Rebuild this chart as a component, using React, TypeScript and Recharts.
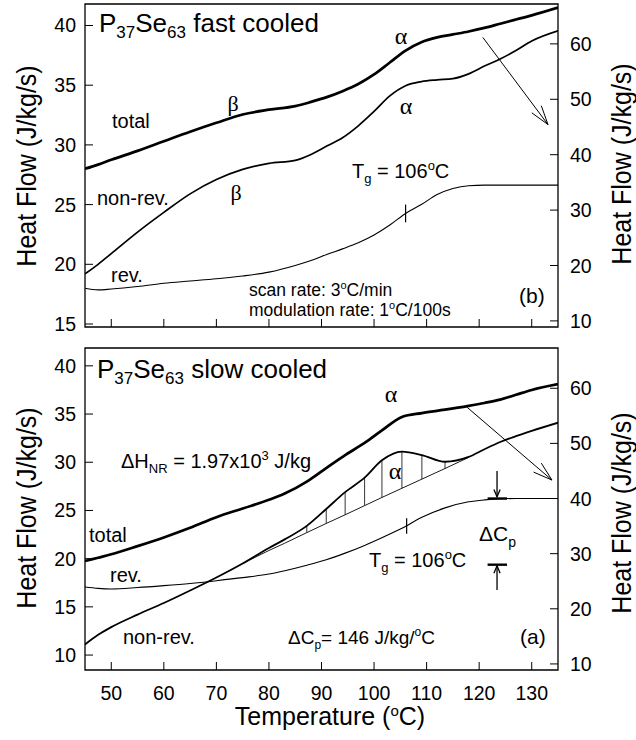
import React from 'react'
import { LineChart, Line, XAxis, YAxis, ReferenceLine, ReferenceArea } from 'recharts'

const FONT = '"Liberation Sans", Arial, Helvetica, sans-serif'
const SERIF = '"Liberation Serif", "Times New Roman", serif'

const xTicks = [50, 60, 70, 80, 90, 100, 110, 120, 130]

// panel (b): fast cooled
const topTemps = [45, 47.5, 50, 55, 60, 65, 70, 75, 80, 85, 88, 91, 94, 97, 100, 103, 106, 109, 112, 115, 118, 121, 124, 127, 130, 135]
const topTotal = [28.0, 28.35, 28.75, 29.5, 30.3, 31.1, 31.85, 32.55, 32.95, 33.25, 33.6, 34.0, 34.5, 35.1, 35.9, 36.9, 37.9, 38.6, 39.0, 39.25, 39.5, 39.8, 40.15, 40.5, 40.85, 41.5]
const topNonRev = [19.2, 20.0, 20.9, 22.7, 24.35, 25.9, 27.1, 27.95, 28.45, 28.7, 29.2, 29.9, 30.6, 31.6, 32.8, 34.1, 34.95, 35.3, 35.45, 35.55, 35.95, 36.6, 37.2, 37.9, 38.7, 39.55]
const topRev = [15.9, 15.6, 15.75, 16.2, 16.8, 17.2, 17.6, 18.1, 18.8, 20.0, 20.9, 22.0, 23.0, 24.1, 25.5, 27.3, 29.4, 31.0, 32.8, 33.9, 34.4, 34.5, 34.5, 34.5, 34.5, 34.5]
const topLeftTicks = [15, 20, 25, 30, 35, 40]
const topRightTicks = [10, 20, 30, 40, 50, 60]

// panel (a): slow cooled
const botTemps = [45, 47.5, 50, 55, 60, 65, 70, 75, 80, 83, 87.2, 90.9, 94.5, 98.2, 101.5, 105.3, 109.1, 113.5, 118, 121, 124, 127, 130, 135]
const botTotal = [19.75, 20.1, 20.45, 21.3, 22.2, 23.2, 24.3, 25.2, 26.1, 26.75, 28.0, 29.4, 30.75, 32.0, 33.3, 34.7, 35.1, 35.45, 35.85, 36.15, 36.5, 37.0, 37.5, 38.1]
const botNonRev = [11.1, 12.1, 12.9, 14.2, 15.4, 16.7, 18.05, 19.5, 21.1, 22.0, 23.4, 25.15, 26.9, 28.4, 30.2, 31.1, 30.75, 30.05, 30.55, 31.35, 32.1, 32.7, 33.25, 34.1]
const botRev = [23.95, 23.7, 23.6, 23.85, 24.2, 24.6, 25.1, 25.65, 26.3, 26.9, 27.9, 28.9, 30.1, 31.5, 32.9, 34.6, 36.6, 38.3, 39.4, 39.75, 39.95, 40, 40, 40]
const botBase = [null, null, null, null, null, null, null, 19.5, 20.85, 21.6, 22.7, 23.65, 24.55, 25.5, 26.35, 27.3, 28.25, 29.35, 30.5, null, null, null, null, null]
const botLeftTicks = [10, 15, 20, 25, 30, 35, 40]
const botRightTicks = [10, 20, 30, 40, 50, 60]
const hatchTemps = [87.2, 90.9, 94.5, 98.2, 101.5, 105.3, 109.1, 113.5]

const tg = 106
const tgRevTop = 29.4
const tgRevBot = 35.0

const topData = topTemps.map((t, i) => ({ t, total: topTotal[i], nonrev: topNonRev[i], rev: topRev[i] }))
const botData = botTemps.map((t, i) => ({ t, total: botTotal[i], nonrev: botNonRev[i], rev: botRev[i], base: botBase[i] }))

const PLOT_L = 85
const PLOT_R = 558
const TICK_FS = 19.5

function LeftTick({ y, payload }: any) {
  return (
    <g>
      <line x1={PLOT_L} x2={PLOT_L + 8} y1={y} y2={y} stroke="#000" strokeWidth={1} />
      <text x={PLOT_L - 9} y={y + 7} textAnchor="end" fontSize={TICK_FS} fontFamily={FONT} fill="#000">
        {payload.value}
      </text>
    </g>
  )
}

function RightTick({ y, payload }: any) {
  return (
    <g>
      <line x1={PLOT_R - 8} x2={PLOT_R} y1={y} y2={y} stroke="#000" strokeWidth={1} />
      <text x={PLOT_R + 12} y={y + 7} textAnchor="start" fontSize={TICK_FS} fontFamily={FONT} fill="#000">
        {payload.value}
      </text>
    </g>
  )
}

function makeBottomTick(bottom: number, labels: boolean) {
  return function BottomTick({ x, payload }: any) {
    return (
      <g>
        <line x1={x} x2={x} y1={bottom - 8} y2={bottom} stroke="#000" strokeWidth={1} />
        {labels && (
          <text x={x} y={bottom + 30} textAnchor="middle" fontSize={TICK_FS} fontFamily={FONT} fill="#000">
            {payload.value}
          </text>
        )}
      </g>
    )
  }
}

const TopXTick = makeBottomTick(327, false)
const BotXTick = makeBottomTick(332, true)

function arrow(head: number, spread: number, width = 1) {
  return (p: any) => {
    const { x1, y1, x2, y2 } = p
    const a = Math.atan2(y2 - y1, x2 - x1)
    const ax = x2 - head * Math.cos(a - spread)
    const ay = y2 - head * Math.sin(a - spread)
    const bx = x2 - head * Math.cos(a + spread)
    const by = y2 - head * Math.sin(a + spread)
    return (
      <g>
        <line x1={x1} y1={y1} x2={x2} y2={y2} stroke="#000" strokeWidth={width} />
        <polyline points={`${ax},${ay} ${x2},${y2} ${bx},${by}`} fill="none" stroke="#000" strokeWidth={width} />
      </g>
    )
  }
}

// text with sub/superscript parts: [text, 'n' | 'sub' | 'sup']
function Rich({ x, y, size = 20, small = 13, subD = 5, supD = 8, anchor = 'start', serif = false, parts }: any) {
  let cur = 0
  return (
    <text
      x={x}
      y={y}
      fontSize={size}
      textAnchor={anchor}
      fontFamily={serif ? SERIF : FONT}
      fill="#000"
      style={{ whiteSpace: 'pre' }}
    >
      {parts.map(([s, k]: [string, string], i: number) => {
        const off = k === 'sub' ? subD : k === 'sup' ? -supD : 0
        const dy = off - cur
        cur = off
        return (
          <tspan key={i} dy={dy} fontSize={k === 'n' ? size : small}>
            {s}
          </tspan>
        )
      })}
    </text>
  )
}

function T({ x, y, size = 20, anchor = 'start', serif = false, children }: any) {
  return (
    <text x={x} y={y} fontSize={size} textAnchor={anchor} fontFamily={serif ? SERIF : FONT} fill="#000">
      {children}
    </text>
  )
}

function YTitle({ x, y }: any) {
  return (
    <text
      transform={`translate(${x},${y}) rotate(-90) scale(1,1.08)`}
      textAnchor="middle"
      fontSize={25}
      fontFamily={FONT}
      fill="#000"
    >
      Heat Flow (J/kg/s)
    </text>
  )
}

const lineCommon = { dot: false, activeDot: false, isAnimationActive: false, type: 'monotone' as const }

export default function App() {
  return (
    <div style={{ position: 'absolute', left: 0, top: 0, width: 636, height: 740, background: '#fff', fontFamily: FONT }}>
      <div style={{ position: 'absolute', left: 0, top: 0 }}>
        <LineChart width={636} height={337} data={topData} margin={{ top: 4, right: 0, bottom: 8, left: 0 }}>
          <XAxis
            dataKey="t"
            type="number"
            domain={[45, 135]}
            ticks={xTicks}
            interval={0}
            allowDataOverflow
            height={2}
            axisLine={false}
            tickLine={false}
            tickSize={0}
            tick={<TopXTick />}
          />
          <YAxis
            yAxisId="l"
            domain={[14.75, 41.8]}
            ticks={topLeftTicks}
            interval={0}
            allowDataOverflow
            width={85}
            axisLine={false}
            tickLine={false}
            tickSize={0}
            tick={<LeftTick />}
          />
          <YAxis
            yAxisId="r"
            orientation="right"
            domain={[8.9, 67.2]}
            ticks={topRightTicks}
            interval={0}
            allowDataOverflow
            width={78}
            axisLine={false}
            tickLine={false}
            tickSize={0}
            tick={<RightTick />}
          />
          <ReferenceArea yAxisId="l" x1={45} x2={135} y1={14.75} y2={41.8} fill="none" stroke="#000" strokeWidth={1.3} ifOverflow="visible" />
          <Line yAxisId="l" dataKey="total" stroke="#000" strokeWidth={2.7} {...lineCommon} />
          <Line yAxisId="l" dataKey="nonrev" stroke="#000" strokeWidth={1.7} {...lineCommon} />
          <Line yAxisId="r" dataKey="rev" stroke="#000" strokeWidth={1.1} {...lineCommon} />
          <ReferenceLine
            yAxisId="r"
            segment={[{ x: tg, y: tgRevTop - 1.6 }, { x: tg, y: tgRevTop + 1.6 }]}
            stroke="#000"
            strokeWidth={1.2}
            ifOverflow="visible"
          />
          <ReferenceLine
            yAxisId="l"
            segment={[{ x: 120.7, y: 39.0 }, { x: 133.1, y: 31.7 }]}
            shape={arrow(20, 0.3, 1)}
            ifOverflow="visible"
          />
        </LineChart>
      </div>

      <div style={{ position: 'absolute', left: 0, top: 338 }}>
        <LineChart width={636} height={402} data={botData} margin={{ top: 10, right: 0, bottom: 0, left: 0 }}>
          <XAxis
            dataKey="t"
            type="number"
            domain={[45, 135]}
            ticks={xTicks}
            interval={0}
            allowDataOverflow
            height={70}
            axisLine={false}
            tickLine={false}
            tickSize={0}
            tick={<BotXTick />}
          />
          <YAxis
            yAxisId="l"
            domain={[8.45, 41.85]}
            ticks={botLeftTicks}
            interval={0}
            allowDataOverflow
            width={85}
            axisLine={false}
            tickLine={false}
            tickSize={0}
            tick={<LeftTick />}
          />
          <YAxis
            yAxisId="r"
            orientation="right"
            domain={[8.9, 67.3]}
            ticks={botRightTicks}
            interval={0}
            allowDataOverflow
            width={78}
            axisLine={false}
            tickLine={false}
            tickSize={0}
            tick={<RightTick />}
          />
          <ReferenceArea yAxisId="l" x1={45} x2={135} y1={8.45} y2={41.85} fill="none" stroke="#000" strokeWidth={1.3} ifOverflow="visible" />
          {hatchTemps.map((h) => {
            const i = botTemps.indexOf(h)
            return (
              <ReferenceLine
                key={h}
                yAxisId="l"
                segment={[{ x: h, y: botBase[i] as number }, { x: h, y: botNonRev[i] }]}
                stroke="#000"
                strokeWidth={0.8}
                ifOverflow="visible"
              />
            )
          })}
          <Line yAxisId="l" dataKey="base" stroke="#000" strokeWidth={0.9} {...lineCommon} type="linear" />
          <Line yAxisId="l" dataKey="total" stroke="#000" strokeWidth={2.7} {...lineCommon} />
          <Line yAxisId="l" dataKey="nonrev" stroke="#000" strokeWidth={1.8} {...lineCommon} />
          <Line yAxisId="r" dataKey="rev" stroke="#000" strokeWidth={1.1} {...lineCommon} />
          <ReferenceLine
            yAxisId="r"
            segment={[{ x: tg + 0.2, y: tgRevBot - 1.4 }, { x: tg + 0.2, y: tgRevBot + 1.4 }]}
            stroke="#000"
            strokeWidth={1.2}
            ifOverflow="visible"
          />
          <ReferenceLine
            yAxisId="l"
            segment={[{ x: 117.7, y: 35.7 }, { x: 133.85, y: 28.15 }]}
            shape={arrow(20, 0.3, 1)}
            ifOverflow="visible"
          />
          <ReferenceLine yAxisId="r" segment={[{ x: 123.4, y: 45.0 }, { x: 123.4, y: 40.3 }]} shape={arrow(8, 0.4, 1.3)} ifOverflow="visible" />
          <ReferenceLine yAxisId="r" segment={[{ x: 121.6, y: 40 }, { x: 125.3, y: 40 }]} stroke="#000" strokeWidth={2.4} ifOverflow="visible" />
          <ReferenceLine yAxisId="r" segment={[{ x: 123.4, y: 23.4 }, { x: 123.4, y: 27.8 }]} shape={arrow(8, 0.4, 1.3)} ifOverflow="visible" />
          <ReferenceLine yAxisId="r" segment={[{ x: 121.6, y: 28 }, { x: 125.3, y: 28 }]} stroke="#000" strokeWidth={2.4} ifOverflow="visible" />
        </LineChart>
      </div>

      <svg width={636} height={740} style={{ position: 'absolute', left: 0, top: 0, pointerEvents: 'none' }}>
        {/* axis titles */}
        <YTitle x={36} y={166} />
        <YTitle x={631} y={164} />
        <YTitle x={36} y={508} />
        <YTitle x={631} y={513} />
        <Rich x={330} y={725} size={25} small={15} supD={9} anchor="middle" parts={[['Temperature (', 'n'], ['o', 'sup'], ['C)', 'n']]} />

        {/* panel (b) */}
        <Rich x={99} y={31.5} size={26} small={17} subD={6} parts={[['P', 'n'], ['37', 'sub'], ['Se', 'n'], ['63', 'sub'], [' fast cooled', 'n']]} />
        <T x={112} y={128} size={20}>total</T>
        <T x={233} y={111} size={22} anchor="middle" serif>β</T>
        <T x={97} y={205} size={20}>non-rev.</T>
        <T x={236} y={200} size={22} anchor="middle" serif>β</T>
        <T x={111} y={282} size={20}>rev.</T>
        <Rich x={249} y={296} size={17.5} small={11} supD={7} parts={[['scan rate: 3', 'n'], ['o', 'sup'], ['C/min', 'n']]} />
        <Rich x={249} y={316} size={17.5} small={11} supD={7} parts={[['modulation rate: 1', 'n'], ['o', 'sup'], ['C/100s', 'n']]} />
        <T x={401} y={44} size={24} anchor="middle" serif>α</T>
        <T x={406} y={114} size={24} anchor="middle" serif>α</T>
        <Rich x={352} y={178} size={20} parts={[['T', 'n'], ['g', 'sub'], [' = 106', 'n'], ['o', 'sup'], ['C', 'n']]} />
        <T x={519} y={303} size={21}>(b)</T>

        {/* panel (a) */}
        <Rich x={97} y={378} size={26} small={17} subD={6} parts={[['P', 'n'], ['37', 'sub'], ['Se', 'n'], ['63', 'sub'], [' slow cooled', 'n']]} />
        <T x={391} y={402} size={24} anchor="middle" serif>α</T>
        <Rich x={121} y={468} size={20} parts={[['ΔH', 'n'], ['NR', 'sub'], [' = 1.97x10', 'n'], ['3', 'sup'], [' J/kg', 'n']]} />
        <T x={395} y={479} size={24} anchor="middle" serif>α</T>
        <T x={89} y={542} size={20}>total</T>
        <T x={110} y={582} size={20}>rev.</T>
        <T x={123} y={644} size={20}>non-rev.</T>
        <Rich x={288} y={644} size={19} small={12} parts={[['ΔC', 'n'], ['p', 'sub'], ['= 146 J/kg/', 'n'], ['o', 'sup'], ['C', 'n']]} />
        <T x={520} y={644} size={21}>(a)</T>
        <Rich x={369} y={567} size={20} parts={[['T', 'n'], ['g', 'sub'], [' = 106', 'n'], ['o', 'sup'], ['C', 'n']]} />
        <Rich x={479} y={541} size={21} small={14} subD={6} parts={[['ΔC', 'n'], ['p', 'sub']]} />
      </svg>
    </div>
  )
}
